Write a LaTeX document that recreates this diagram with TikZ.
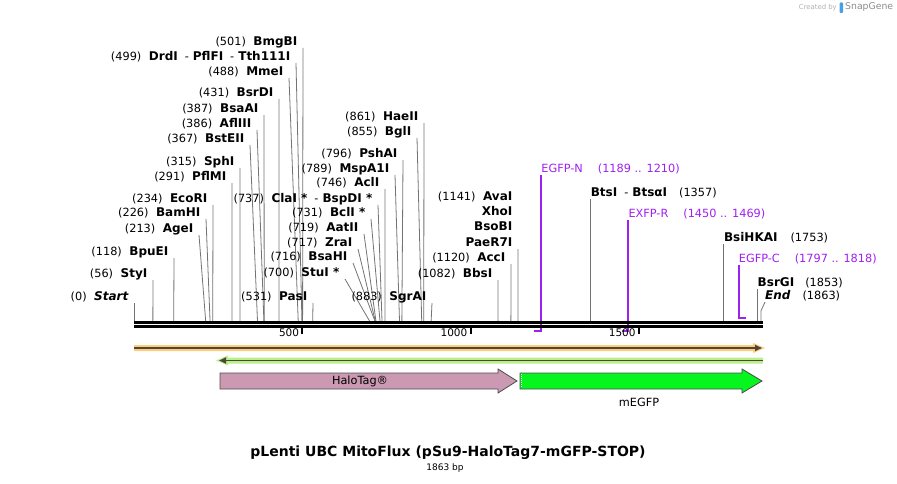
\documentclass[tikz,border=0pt]{standalone}
\usepackage{fontspec}
\setmainfont{DejaVu Sans}
\usetikzlibrary{positioning,arrows.meta}
\definecolor{primerpurple}{RGB}{160,32,240}
\definecolor{halopink}{RGB}{204,153,179}
\definecolor{gfpgreen}{RGB}{6,245,30}
\definecolor{barorange}{RGB}{253,205,125}
\definecolor{bargreen}{RGB}{185,240,140}
\definecolor{bardark}{RGB}{80,70,55}
\definecolor{snapblue}{RGB}{70,160,230}
\newcommand{\enz}[1]{{\fontsize{12}{13}\selectfont\bfseries #1}}
\newcommand{\nb}[1]{(#1)\hspace{7.5pt}}
\newcommand{\dsh}{\hspace{7pt}-\hspace{4pt}}
\tikzset{
  lbl/.style={inner xsep=5.5pt, inner ysep=0.5pt, text height=9pt, text depth=2pt, font=\fontsize{11.3}{13}\selectfont},
  rlbl/.style={lbl, inner xsep=0pt},
  plbl/.style={rlbl, text=primerpurple},
  cut/.style={draw=black!55, line width=0.8pt},
  primer/.style={draw=primerpurple, line width=1.8pt},
  feat/.style={draw=black!70, line width=0.8pt}
}
\begin{document}
\begin{tikzpicture}[x=1pt, y=-1pt]
\useasboundingbox (0,0) rectangle (897,484);
% enzyme sites left of their line: key, bp, line x, line top, text
\foreach \key/\pos/\lx/\ly/\txt in {
  start/0/134/303/{\nb{0}\enz{\itshape Start}},
  styi/56/153/280/{\nb{56}\enz{StyI}},
  bpuei/118/174/258/{\nb{118}\enz{BpuEI}},
  agei/213/199/235/{\nb{213}\enz{AgeI}},
  bamhi/226/206/219/{\nb{226}\enz{BamHI}},
  ecori/234/213/205/{\nb{234}\enz{EcoRI}},
  pflmi/291/232/183/{\nb{291}\enz{PflMI}},
  sphi/315/240/168/{\nb{315}\enz{SphI}},
  bsteii/367/250/145/{\nb{367}\enz{BstEII}},
  afliii/386/257/130/{\nb{386}\enz{AflIII}},
  bsaai/387/264/115/{\nb{387}\enz{BsaAI}},
  bsrdi/431/279/99/{\nb{431}\enz{BsrDI}},
  mmei/488/289/78/{\nb{488}\enz{MmeI}},
  tthi/499/296/63/{\nb{499}\enz{DrdI}\dsh\enz{PflFI}\dsh\enz{Tth111I}},
  bmgbi/501/303/48/{\nb{501}\enz{BmgBI}},
  pasi/531/313/303/{\nb{531}\enz{PasI}},
  stui/700/345/279/{\nb{700}\enz{StuI *}},
  bsahi/716/353/263/{\nb{716}\enz{BsaHI}},
  zrai/717/358/249/{\nb{717}\enz{ZraI}},
  aatii/719/364/234/{\nb{719}\enz{AatII}},
  bcli/731/371/219/{\nb{731}\enz{BclI *}},
  clai/737/378/205/{\nb{737}\enz{ClaI *}\dsh\enz{BspDI *}},
  acli/746/385/189/{\nb{746}\enz{AclI}},
  mspai/789/395/175/{\nb{789}\enz{MspA1I}},
  pshai/796/403/160/{\nb{796}\enz{PshAI}},
  bgli/855/417/138/{\nb{855}\enz{BglI}},
  haeii/861/424/123/{\nb{861}\enz{HaeII}},
  sgrai/883/432/303/{\nb{883}\enz{SgrAI}},
  bbsi/1082/498/280/{\nb{1082}\enz{BbsI}},
  acci/1120/511/264/{\nb{1120}\enz{AccI}},
  paer/1141/518/249/{\enz{PaeR7I}}
} {
  \coordinate (s\key) at ({134+0.3365*\pos},321);
  \node[lbl, anchor=south east] (l\key) at (\lx,\ly) {\txt};
  \draw[cut] (l\key.south east) -- (s\key);
}
\node[lbl, above left=3pt and 0pt of lpaer.north east] (lbsobi) {\enz{BsoBI}};
\node[lbl, above left=3pt and 0pt of lbsobi.north east] (lxhoi) {\enz{XhoI}};
\node[lbl, above left=3pt and 0pt of lxhoi.north east] (lavai) {\nb{1141}\enz{AvaI}};
% sites labelled to the right
\foreach \key/\pos/\ly/\txt in {
  btsi/1357/199/{\enz{BtsI}\dsh\enz{BtsαI}\hspace{12pt}(1357)},
  bsihkai/1753/244/{\enz{BsiHKAI}\hspace{13pt}(1753)},
  bsrgi/1853/289/{\enz{BsrGI}\hspace{11pt}(1853)}
} {
  \coordinate (s\key) at ({134+0.3365*\pos},321);
  \node[rlbl, anchor=south west] (l\key) at (s\key |- 0,\ly) {\txt};
  \draw[cut] (l\key.south west) -- (s\key);
}
\coordinate (send) at ({134+0.3365*1863},321);
\node[rlbl, anchor=south west] (lend) at (765,302) {\enz{\itshape End}\hspace{12pt}(1863)};
\draw[cut] (lend.south west) -- (send |- 0,311) -- (send);
% primers
\coordinate (pn1) at ({134+0.3365*1189},331);
\coordinate (pn2) at ({134+0.3365*1210},331);
\coordinate (pr1) at ({134+0.3365*1450},331);
\coordinate (pr2) at ({134+0.3365*1469},331);
\coordinate (pc1) at ({134+0.3365*1797},318);
\coordinate (pc2) at ({134+0.3365*1818},318);
\node[plbl, anchor=south west] (legfpn) at (pn2 |- 0,175) {EGFP-N\hspace{15pt}(1189 .. 1210)};
\node[plbl, anchor=south west] (lexfpr) at (pr2 |- 0,220) {EXFP-R\hspace{15pt}(1450 .. 1469)};
\node[plbl, anchor=south west] (legfpc) at (pc1 |- 0,265) {EGFP-C\hspace{15pt}(1797 .. 1818)};
\draw[primer] (legfpn.south west) -- (pn2) -- (pn1);
\draw[primer] (lexfpr.south west) -- (pr2) -- (pr1);
\draw[primer] (legfpc.south west) -- (pc1) -- (pc2);
% backbone and ruler
\draw[line width=3pt] (134,322.5) -- (763,322.5);
\draw[line width=2.4pt] (134,326.6) -- (763,326.6);
\foreach \t in {500,1000,1500} {
  \coordinate (k\t) at ({134+0.3365*\t},327);
  \draw[line width=2pt] (k\t) -- ++(0,7);
  \node[anchor=north east, inner sep=0pt, font=\fontsize{10.5}{12}\selectfont] (n\t) at ([xshift=-3pt,yshift=-1.5pt]k\t) {\t};
}
% feature bars
\fill[barorange] (134,345) -- (753,345) -- (753,343) -- (765,348) -- (753,353) -- (753,351) -- (134,351) -- cycle;
\draw[bardark, line width=1.6pt, -{Triangle[length=7pt,width=6pt]}] (134,348) -- (762,348);
\fill[bargreen] (763,357.5) -- (228,357.5) -- (228,355.5) -- (216,360.5) -- (228,365.5) -- (228,363.5) -- (763,363.5) -- cycle;
\draw[bardark, line width=1.6pt, -{Triangle[length=7pt,width=6pt]}] (763,360.5) -- (219,360.5);
% feature arrows
\draw[feat, fill=halopink] (220,373) -- (498,373) -- (498,369) -- (517,381) -- (498,393) -- (498,389) -- (220,389) -- cycle;
\node[font=\fontsize{11.3}{13}\selectfont] (halotag) at (360,381) {HaloTag®};
\draw[feat, fill=gfpgreen] (520,373) -- (742,373) -- (742,369) -- (762,381) -- (742,393) -- (742,389) -- (520,389) -- cycle;
\draw[white, line width=1pt, dash pattern=on 1pt off 1pt] (521.5,374) -- (521.5,388);
\node[font=\fontsize{11.3}{13}\selectfont] (megfp) at (639,402) {mEGFP};
% title
\node[font=\fontsize{14}{16}\selectfont\bfseries] (title) at (448,453) {pLenti UBC MitoFlux (pSu9-HaloTag7-mGFP-STOP)};
\node[font=\fontsize{9}{11}\selectfont] (size) at (445,468) {1863 bp};
\node[anchor=east, inner sep=0pt, text=black!30, font=\fontsize{6.9}{8}\selectfont] (credit) at (837,7.5) {Created by};
\fill[snapblue, rounded corners=1pt] (839.5,2.5) rectangle (843,13);
\node[anchor=west, inner sep=0pt, text=black!45, font=\fontsize{9.3}{11}\selectfont] (snapgene) at (845,7.5) {SnapGene};
\end{tikzpicture}
\end{document}
